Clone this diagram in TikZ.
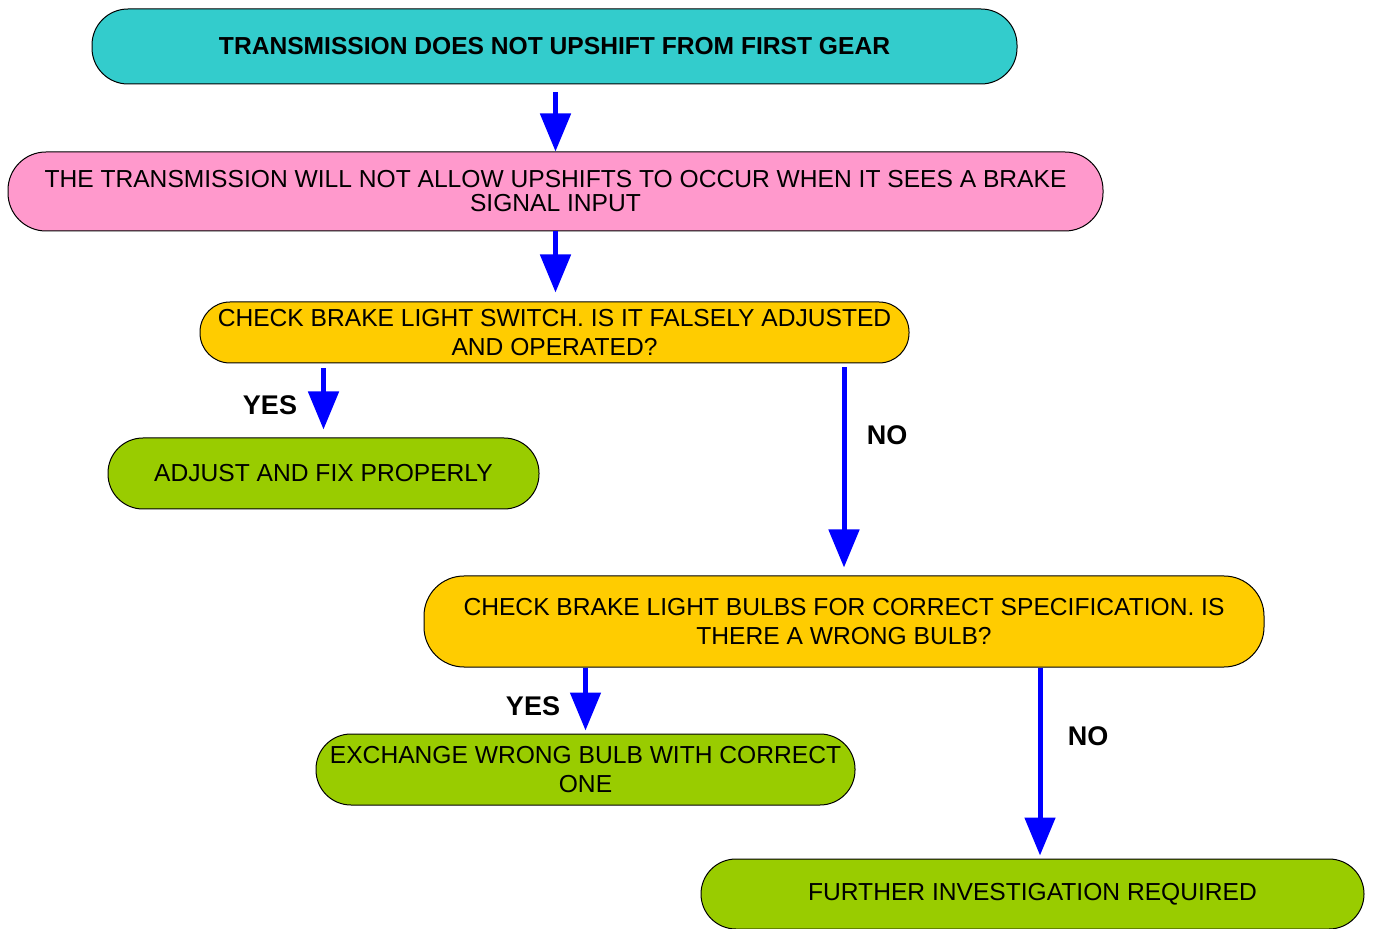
\documentclass[tikz,border=0pt]{standalone}
\usepackage{fontspec}
\setmainfont{Liberation Sans}
\usetikzlibrary{arrows.meta, positioning}
\definecolor{topcyan}{HTML}{33CCCC}
\definecolor{infopink}{HTML}{FF99CC}
\definecolor{checkorange}{HTML}{FFCC00}
\definecolor{fixgreen}{HTML}{99CC00}
\tikzstyle{stepbase} = [rectangle, draw=black, line width=0.5pt, text centered, align=center, inner sep=0pt, font=\fontsize{12.3}{14.5}\selectfont]
\tikzstyle{problem} = [stepbase, fill=topcyan, rounded corners=18pt, font=\fontsize{12.3}{14.5}\selectfont\bfseries]
\tikzstyle{info} = [stepbase, fill=infopink, rounded corners=19pt, font=\fontsize{12.3}{12}\selectfont]
\tikzstyle{check} = [stepbase, fill=checkorange]
\tikzstyle{fix} = [stepbase, fill=fixgreen, rounded corners=17.5pt]
\tikzstyle{arrow} = [draw=blue, line width=2.5pt, -{Triangle[width=15pt, length=19pt]}]
\tikzstyle{answer} = [font=\fontsize{13.5}{16}\selectfont\bfseries]

\begin{document}
\begin{tikzpicture}[x=0.5pt, y=-0.5pt]
\useasboundingbox (0,0) rectangle (1375,929);

% Problem and explanation
\node (fault) [problem, minimum width=462.5pt, minimum height=37.5pt] at (554.5,46.5) {TRANSMISSION DOES NOT UPSHIFT FROM FIRST GEAR};
\node (signal) [info, minimum width=547.5pt, minimum height=39.5pt] at (555.5,191.5) {THE TRANSMISSION WILL NOT ALLOW UPSHIFTS TO OCCUR WHEN IT SEES A BRAKE\\SIGNAL INPUT};

% First check
\node (switch) [check, rounded corners=15pt, minimum width=354.5pt, minimum height=30.5pt] at (554.5,332.5) {CHECK BRAKE LIGHT SWITCH. IS IT FALSELY ADJUSTED\\AND OPERATED?};
\node (adjust) [fix, minimum width=215.5pt, minimum height=35.5pt] at (323.5,473.5) {ADJUST AND FIX PROPERLY};

% Second check
\node (bulbs) [check, rounded corners=20pt, minimum width=420pt, minimum height=45.5pt] at (844,621.5) {CHECK BRAKE LIGHT BULBS FOR CORRECT SPECIFICATION. IS\\THERE A WRONG BULB?};
\node (exchange) [fix, minimum width=269.5pt, minimum height=35.5pt] at (585.5,769.5) {EXCHANGE WRONG BULB WITH CORRECT\\ONE};
\node (further) [fix, minimum width=331.5pt, minimum height=35pt] at (1032.5,894) {FURTHER INVESTIGATION REQUIRED};

\coordinate (nofrom) at (1040,668);

% Connectors
\draw [arrow] ([yshift=-4pt]fault.south -| signal.north) -- (signal.north);
\draw [arrow] (signal.south) -- ([yshift=4.5pt]signal.south |- switch.north);
\draw [arrow] ([yshift=-2.5pt]switch.south -| adjust.north) -- ([yshift=4pt]adjust.north);
\draw [arrow] ([yshift=-2pt]switch.south -| bulbs.north) -- ([yshift=4pt]bulbs.north);
\draw [arrow] (bulbs.south -| exchange.north) -- ([yshift=1.5pt]exchange.north);
\draw [arrow] (nofrom) -- ([yshift=1.5pt]nofrom |- further.north);

% Answers
\node (yes1) [answer] at (270,405) {YES};
\node (no1) [answer] at (887,435) {NO};
\node (yes2) [answer] at (533,706) {YES};
\node (no2) [answer] at (1088,736) {NO};

\end{tikzpicture}
\end{document}
